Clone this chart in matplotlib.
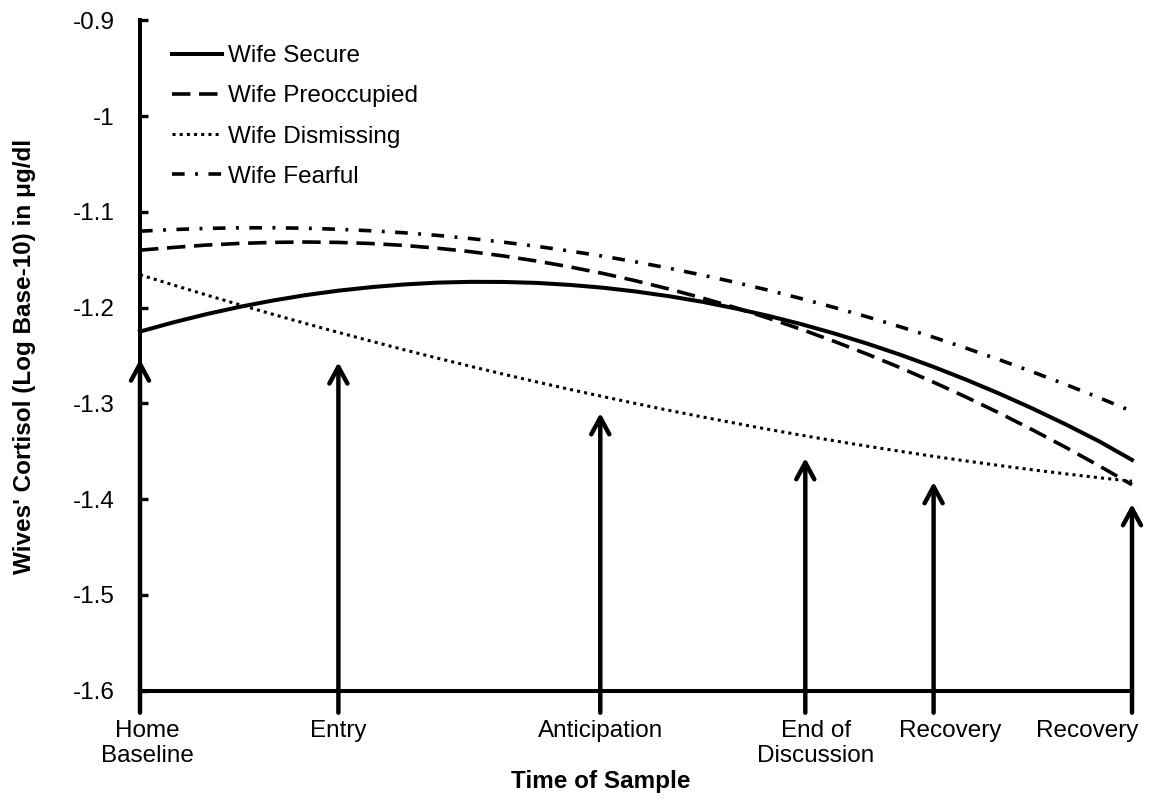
import matplotlib.pyplot as plt
from matplotlib.transforms import blended_transform_factory

plt.rcParams['font.family'] = ['Liberation Sans', 'DejaVu Sans']

# minutes since the home baseline sample
minutes = list(range(0, 155, 5))

# predicted log cortisol by wife attachment style
secure = [-1.2250, -1.2155, -1.2069, -1.1993, -1.1927, -1.1870, -1.1823, -1.1786,
          -1.1758, -1.1739, -1.1731, -1.1732, -1.1742, -1.1763, -1.1792, -1.1832,
          -1.1881, -1.1939, -1.2008, -1.2086, -1.2173, -1.2270, -1.2377, -1.2493,
          -1.2619, -1.2755, -1.2900, -1.3055, -1.3220, -1.3395, -1.3590]
preoccupied = [-1.1400, -1.1372, -1.1347, -1.1330, -1.1319, -1.1315, -1.1319, -1.1331,
               -1.1351, -1.1380, -1.1416, -1.1461, -1.1514, -1.1575, -1.1643, -1.1721,
               -1.1806, -1.1899, -1.2000, -1.2110, -1.2227, -1.2353, -1.2487, -1.2629,
               -1.2779, -1.2937, -1.3103, -1.3278, -1.3460, -1.3651, -1.3849]
dismissing = [-1.1657, -1.1763, -1.1867, -1.1969, -1.2068, -1.2165, -1.2259, -1.2351,
              -1.2441, -1.2528, -1.2613, -1.2696, -1.2776, -1.2854, -1.2929, -1.3002,
              -1.3073, -1.3141, -1.3207, -1.3271, -1.3332, -1.3391, -1.3447, -1.3501,
              -1.3553, -1.3602, -1.3649, -1.3694, -1.3736, -1.3776, -1.3813]
fearful = [-1.1202, -1.1185, -1.1173, -1.1167, -1.1166, -1.1171, -1.1182, -1.1198,
           -1.1219, -1.1246, -1.1279, -1.1317, -1.1360, -1.1409, -1.1463, -1.1523,
           -1.1589, -1.1660, -1.1736, -1.1818, -1.1906, -1.1999, -1.2097, -1.2201,
           -1.2310, -1.2425, -1.2546, -1.2672, -1.2803, -1.2940, -1.3083]

# saliva sample times and the heights the marker arrows reach
sample_times = [0, 30, 69.6, 100.6, 120, 150]
sample_labels = ['Home\nBaseline', 'Entry', 'Anticipation', 'End of\nDiscussion',
                 'Recovery', 'Recovery']
arrow_tops = [-1.254, -1.257, -1.310, -1.357, -1.382, -1.405]

y_ticks = [-0.9, -1.0, -1.1, -1.2, -1.3, -1.4, -1.5, -1.6]
y_tick_labels = ['-0.9', '-1', '-1.1', '-1.2', '-1.3', '-1.4', '-1.5', '-1.6']

W, H = 1152, 802
fig = plt.figure(figsize=(W / 100, H / 100), dpi=100)
ax = fig.add_axes([140 / W, 1 - 690.7 / H, 992 / W, 670.4 / H])
ax.set_xlim(0, 150)
ax.set_ylim(-1.6, -0.9)

for side in ('top', 'right'):
    ax.spines[side].set_visible(False)
for side in ('left', 'bottom'):
    ax.spines[side].set_linewidth(2.9)

ax.set_yticks(y_ticks)
ax.set_yticklabels(y_tick_labels)
ax.tick_params(axis='y', direction='in', length=6, width=2.4, labelsize=17.5, pad=18)
ax.tick_params(axis='x', length=0, labelbottom=False)

ax.plot(minutes, secure, color='black', lw=2.9, label='Wife Secure', clip_on=False)
ax.plot(minutes, preoccupied, color='black', lw=2.6, dashes=(5.1, 2.4),
        label='Wife Preoccupied', clip_on=False)
ax.plot(minutes, dismissing, color='black', lw=2.2, dashes=(1, 1.35),
        label='Wife Dismissing', clip_on=False)
ax.plot(minutes, fearful, color='black', lw=2.6, dashes=(3.5, 2.9, 0.8, 2.9),
        label='Wife Fearful', clip_on=False)

# upward arrows marking each sample
for t, top in zip(sample_times, arrow_tops):
    ax.annotate('', xy=(t, top), xytext=(t, -1.623),
                arrowprops=dict(arrowstyle='->,head_length=1.2,head_width=0.65',
                                mutation_scale=10, lw=3.2, color='black',
                                shrinkA=0, shrinkB=0),
                annotation_clip=False)

# sample names under the axis (some sit a little off their arrow)
label_shift = [1.1, 0, 0, 1.6, 2.5, -6.8]
tr = blended_transform_factory(ax.transData, fig.transFigure)
for t, shift, name in zip(sample_times, label_shift, sample_labels):
    ax.text(t + shift, 1 - 720 / H, name, transform=tr, ha='center', va='top',
            fontsize=17.5, linespacing=1.2)

fig.text(601 / W, 1 - 770 / H, 'Time of Sample', ha='center', va='top',
         fontsize=17.5, fontweight='bold')
fig.text(25 / W, 1 - 356 / H, "Wives' Cortisol (Log Base-10) in \u03bcg/dl",
         rotation=90, ha='center', va='center', fontsize=17.5, fontweight='bold')

ax.legend(loc='upper left', bbox_to_anchor=(172 / W, 1 - 45 / H),
          bbox_transform=fig.transFigure, frameon=False, fontsize=17.5,
          handlelength=2.06, handletextpad=0.25, labelspacing=0.75,
          borderpad=0, borderaxespad=0)

fig.savefig('out.png', dpi=100)
